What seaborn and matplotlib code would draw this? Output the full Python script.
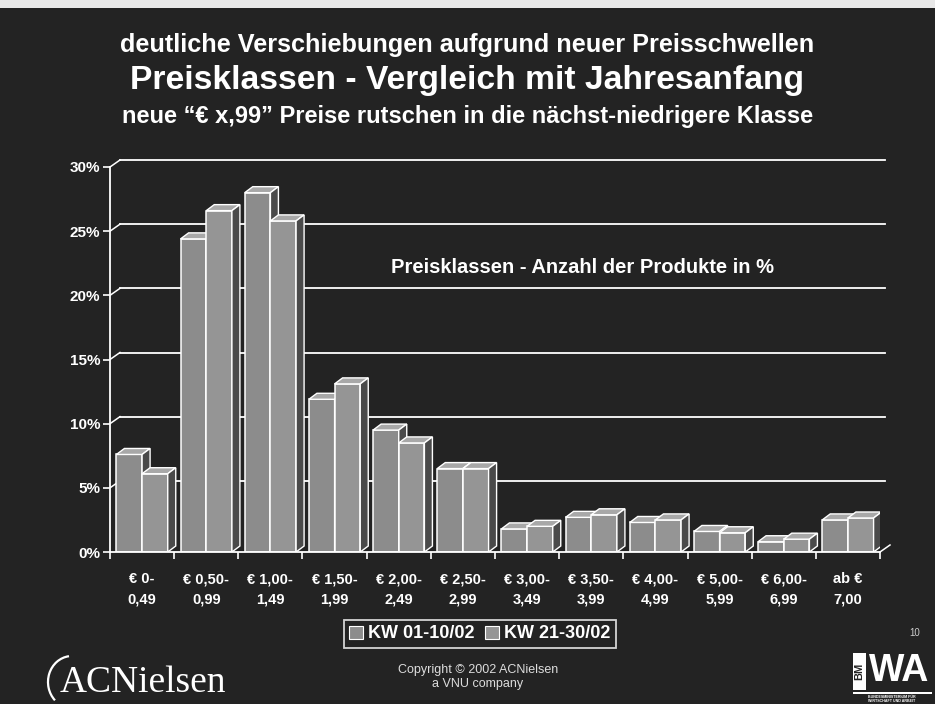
import matplotlib
matplotlib.use("Agg")
import numpy as np
import pandas as pd
import matplotlib.pyplot as plt
import matplotlib.transforms as mtransforms
from matplotlib.patches import Patch, Polygon, Rectangle, Arc
import seaborn as sns

# --- Daten ---
klassen = ["€ 0-\n0,49", "€ 0,50-\n0,99", "€ 1,00-\n1,49", "€ 1,50-\n1,99",
           "€ 2,00-\n2,49", "€ 2,50-\n2,99", "€ 3,00-\n3,49", "€ 3,50-\n3,99",
           "€ 4,00-\n4,99", "€ 5,00-\n5,99", "€ 6,00-\n6,99", "ab €\n7,00"]
serien = ["KW 01-10/02", "KW 21-30/02"]
kw_01_10 = [7.6, 24.4, 28.0, 11.9, 9.5, 6.5, 1.8, 2.7, 2.3, 1.6, 0.8, 2.5]
kw_21_30 = [6.1, 26.6, 25.8, 13.1, 8.5, 6.5, 2.0, 2.9, 2.5, 1.5, 1.0, 2.65]
y_ticks = [0, 5, 10, 15, 20, 25, 30]

df = pd.DataFrame({
    "Klasse": klassen * 2,
    "Serie": [serien[0]] * len(klassen) + [serien[1]] * len(klassen),
    "Anteil": kw_01_10 + kw_21_30,
})

BG = "#232323"
FRONT = ["#8c8c8c", "#959595"]
TOP = "#a8a8a8"
SIDE = "#4a4a4a"
FONT = ["Liberation Sans", "DejaVu Sans"]

plt.rcParams["font.family"] = FONT
fig = plt.figure(figsize=(9.35, 7.04), dpi=100, facecolor=BG)
ax = fig.add_axes([110 / 935, 1 - 552 / 704, 770 / 935, 385 / 704])
ax.set_facecolor("none")

sns.barplot(data=df, x="Klasse", y="Anteil", hue="Serie", palette=FRONT,
            width=0.8, edgecolor="white", linewidth=1.1, saturation=1,
            ax=ax, legend=False)

ax.set_xlim(-0.5, len(klassen) - 0.5)
ax.set_ylim(0, 30)

# 3D-Tiefe in Pixel
DX, DY = 8, 6
px_x = ax.bbox.width / (len(klassen))
px_y = ax.bbox.height / 30
dxd, dyd = DX / px_x, DY / px_y

for i, p in enumerate(ax.patches):
    s = 0 if i < len(klassen) else 1
    z = 2 + s * 0.5
    p.set_zorder(z)
    x0, w, h = p.get_x(), p.get_width(), p.get_height()
    top = Polygon([(x0, h), (x0 + dxd, h + dyd), (x0 + w + dxd, h + dyd), (x0 + w, h)],
                  closed=True, facecolor=TOP, edgecolor="white", lw=1.0, zorder=z + 0.1)
    side = Polygon([(x0 + w, 0), (x0 + w + dxd, dyd), (x0 + w + dxd, h + dyd), (x0 + w, h)],
                   closed=True, facecolor=SIDE, edgecolor="white", lw=1.0, zorder=z + 0.1)
    ax.add_patch(top)
    ax.add_patch(side)

# Rueckwand-Gitterlinien (versetzt)
GDX, GDY = 10, 7
off = ax.transData + mtransforms.Affine2D().translate(GDX, GDY)
x_lo, x_hi = ax.get_xlim()
for yv in y_ticks[1:]:
    ax.plot([x_lo, x_hi - 0.08], [yv, yv], color="white", lw=1.3, transform=off,
            zorder=0.5, clip_on=False)
    a = ax.transData.transform((x_lo, yv))
    ax.plot([a[0], a[0] + GDX], [a[1], a[1] + GDY], color="white", lw=1.1,
            transform=None, zorder=0.5, clip_on=False)
# Boden rechts
b = ax.transData.transform((x_hi, 0))
ax.plot([b[0], b[0] + GDX], [b[1], b[1] + GDY], color="white", lw=1.1,
        transform=None, zorder=3, clip_on=False)

for sp in ["top", "right"]:
    ax.spines[sp].set_visible(False)
for sp in ["left", "bottom"]:
    ax.spines[sp].set_color("white")
    ax.spines[sp].set_linewidth(1.3)

ax.set_yticks(y_ticks)
ax.set_yticklabels([f"{v}%" for v in y_ticks])
ax.set_xticks(range(len(klassen)))
ax.set_xticklabels(klassen, linespacing=1.55)
ax.set_xticks(np.arange(-0.5, len(klassen)), minor=True)
ax.tick_params(axis="x", which="major", length=0, pad=27, colors="white",
               labelsize=10.5)
ax.tick_params(axis="x", which="minor", length=5, color="white", width=1.2)
ax.tick_params(axis="y", length=5, color="white", width=1.2, colors="white",
               labelsize=11, pad=2)
for t in ax.get_xticklabels():
    t.set_fontweight("bold")
    t.set_va("center")
for t in ax.get_yticklabels():
    t.set_fontweight("bold")
ax.set_xlabel("")
ax.set_ylabel("")

ax.text(0.613, 0.738, "Preisklassen - Anzahl der Produkte in %", transform=ax.transAxes,
        ha="center", va="center", color="white", fontsize=14.5, fontweight="bold")

# Titel
fig.text(0.5, 1 - 45 / 704, "deutliche Verschiebungen aufgrund neuer Preisschwellen",
         ha="center", va="center", color="white", fontsize=18.2, fontweight="bold")
fig.text(0.5, 1 - 81 / 704, "Preisklassen - Vergleich mit Jahresanfang",
         ha="center", va="center", color="white", fontsize=24.2, fontweight="bold")
fig.text(0.5, 1 - 117 / 704, "neue “€ x,99” Preise rutschen in die nächst-niedrigere Klasse",
         ha="center", va="center", color="white", fontsize=17, fontweight="bold")

# Legende
handles = [Patch(facecolor=c, edgecolor="white", lw=0.8) for c in FRONT]
leg = fig.legend(handles, serien, loc="center", ncol=2,
                 bbox_to_anchor=(480 / 935, 1 - 634 / 704), frameon=True,
                 fontsize=13, handlelength=0.75, handleheight=0.75, handletextpad=0.3,
                 columnspacing=0.6, borderpad=0.3, fancybox=False)
leg.get_frame().set_facecolor(BG)
leg.get_frame().set_edgecolor("white")
leg.get_frame().set_linewidth(1.3)
for t in leg.get_texts():
    t.set_color("white")
    t.set_fontweight("bold")

# Fusszeile
fig.text(478 / 935, 1 - 677 / 704, "Copyright © 2002 ACNielsen\na VNU company",
         ha="center", va="center", color="#dddddd", fontsize=9, linespacing=1.25,
         family=["Liberation Sans Narrow", "Liberation Sans", "DejaVu Sans"])
fig.text(915 / 935, 1 - 633 / 704, "10", ha="center", va="center", color="#cccccc",
         fontsize=7)

# ACNielsen-Logo
fig.text(60 / 935, 1 - 683 / 704, "ACNielsen", ha="left", va="center", color="white",
         fontsize=27, family=["Liberation Serif", "DejaVu Serif"])
fig.patches.append(Arc((72 / 935, 1 - 682 / 704), 48 / 935, 52 / 704, theta1=95,
                       theta2=235, transform=fig.transFigure, color="white", lw=1.6))

# BMWA-Logo
fig.patches.append(Rectangle((853 / 935, 1 - 690 / 704), 13 / 935, 37 / 704,
                             transform=fig.transFigure, facecolor="white",
                             edgecolor="none"))
fig.patches.append(Rectangle((853 / 935, 1 - 694 / 704), 79 / 935, 2.5 / 704,
                             transform=fig.transFigure, facecolor="white",
                             edgecolor="none"))
fig.text(859.5 / 935, 1 - 671 / 704, "BM", ha="center", va="center", color=BG,
         fontsize=8, fontweight="bold", rotation=90)
fig.text(899 / 935, 1 - 671 / 704, "WA", ha="center", va="center", color="white",
         fontsize=27, fontweight="bold")
fig.text(892 / 935, 1 - 699 / 704, "BUNDESMINISTERIUM FÜR\nWIRTSCHAFT UND ARBEIT",
         ha="center", va="center", color="white", fontsize=2.6, fontweight="bold",
         linespacing=1.0)

# heller Rand oben
fig.patches.append(Rectangle((0, 1 - 8 / 704), 1, 8 / 704, transform=fig.transFigure,
                             facecolor="#e8e8e8", edgecolor="none"))

fig.savefig("out.png", dpi=100, facecolor=BG)
